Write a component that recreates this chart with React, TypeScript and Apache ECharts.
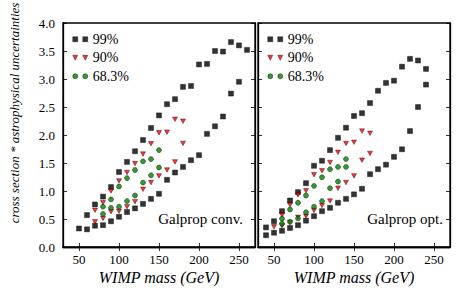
import React, { useEffect, useRef } from "react";
import * as echarts from "echarts";

// ---- data ----
const tickMasses = [50, 100, 150, 200, 250];

// Left panel: Galprop conv.
const convMass99 = [50, 60, 70, 80, 90, 100, 110, 120, 130, 140, 150, 160, 170, 180, 190, 200, 210, 220, 230, 240, 250, 260,
  60, 70, 80, 90, 100, 110, 120, 130, 140, 150, 160, 170, 180, 190, 200, 210, 220, 230, 240, 250];
const convVal99 = [0.33, 0.57, 0.76, 0.9, 1.07, 1.34, 1.52, 1.71, 1.91, 2.125, 2.35, 2.55, 2.64, 2.86, 2.875, 3.26, 3.27, 3.5, 3.49, 3.66, 3.6, 3.52,
  0.315, 0.38, 0.39, 0.46, 0.54, 0.625, 0.69, 0.77, 0.86, 0.95, 1.2, 1.33, 1.43, 1.55, 1.64, 2.02, 2.155, 2.33, 2.74, 2.95];
const convMass90 = [70, 80, 90, 100, 110, 120, 130, 140, 150, 160, 170, 180,
  70, 80, 90, 100, 110, 120, 130, 140, 150, 160, 170, 180];
const convVal90 = [0.655, 0.79, 1.0, 1.18, 1.33, 1.49, 1.66, 1.845, 2.04, 2.05, 2.28, 2.245,
  0.45, 0.51, 0.63, 0.64, 0.72, 0.81, 1.03, 1.15, 1.27, 1.375, 1.52, 1.85];
const convMass68 = [80, 90, 100, 110, 120, 130, 140, 150,
  80, 90, 100, 110, 120, 130, 140, 150];
const convVal68 = [0.72, 0.85, 1.08, 1.23, 1.375, 1.53, 1.57, 1.73,
  0.59, 0.7, 0.72, 0.82, 0.92, 1.15, 1.28, 1.42];

// Right panel: Galprop opt.
const optMass99 = [40, 50, 60, 70, 80, 90, 100, 110, 120, 130, 140, 150, 160, 170, 180, 190, 200, 210, 220, 230, 240,
  40, 50, 60, 70, 80, 90, 100, 110, 120, 130, 140, 150, 160, 170, 180, 190, 200, 210, 220, 230, 240];
const optVal99 = [0.35, 0.46, 0.64, 0.83, 0.98, 1.14, 1.45, 1.54, 1.73, 1.95, 2.13, 2.34, 2.39, 2.57, 2.79, 2.93, 2.97, 3.22, 3.36, 3.33, 3.18,
  0.21, 0.255, 0.29, 0.34, 0.39, 0.47, 0.55, 0.64, 0.7, 0.79, 0.86, 0.94, 1.04, 1.3, 1.39, 1.47, 1.61, 1.745, 2.07, 2.5, 2.9];
const optMass90 = [60, 70, 80, 90, 100, 110, 120, 130, 140, 150, 160, 170,
  50, 60, 70, 80, 90, 100, 110, 120, 130, 140, 150, 160, 170];
const optVal90 = [0.57, 0.75, 0.93, 1.005, 1.29, 1.36, 1.51, 1.69, 1.85, 1.87, 2.07, 2.03,
  0.36, 0.38, 0.44, 0.53, 0.55, 0.65, 0.74, 0.82, 1.05, 1.15, 1.27, 1.55, 1.67];
const optMass68 = [60, 70, 80, 90, 100, 110, 120, 130, 140,
  60, 70, 80, 90, 100, 110, 120, 130, 140];
const optVal68 = [0.505, 0.67, 0.79, 0.92, 1.09, 1.245, 1.39, 1.43, 1.57,
  0.415, 0.45, 0.51, 0.62, 0.72, 0.82, 1.05, 1.17, 1.43];

const seriesNames = ["99%", "90%", "68.3%"];
const panelLabels = ["Galprop conv.", "Galprop opt."];
const xTitle = "WIMP mass (GeV)";
const yTitle = "cross section * astrophysical uncertainties";

const pairs = (xs: number[], ys: number[]) => xs.map((x, i) => [x, ys[i]]);

const SERIF = "Liberation Serif";

export default function App() {
  const ref = useRef<HTMLDivElement>(null);
  useEffect(() => {
    if (!ref.current) return;
    const chart = echarts.init(ref.current, null, { renderer: "svg" });

    const grids = [
      { show: true, borderColor: "#000", borderWidth: 1.3, left: 63, top: 23, width: 192, height: 224, outerBoundsMode: "none" },
      { show: true, borderColor: "#000", borderWidth: 1.3, left: 258, top: 23, width: 192, height: 224, outerBoundsMode: "none" },
    ];
    const tickStyle = { color: "#000", width: 0.8 };
    const axisLine = { show: true, lineStyle: { color: "#000", width: 1.3 } };
    const xAxes: any[] = [];
    const yAxes: any[] = [];
    [0, 1].forEach((g) => {
      xAxes.push({
        gridIndex: g, type: "value", min: 30, max: 270, position: "bottom",
        axisLine, splitLine: { show: false },
        axisTick: { inside: true, length: 4, customValues: tickMasses, lineStyle: tickStyle },
        axisLabel: { customValues: tickMasses, margin: 6, color: "#000", fontFamily: SERIF, fontSize: 13 },
      });
      xAxes.push({
        gridIndex: g, type: "value", min: 30, max: 270, position: "top",
        axisLine, splitLine: { show: false },
        axisTick: { inside: true, length: 4, customValues: tickMasses, lineStyle: tickStyle },
        axisLabel: { show: false },
      });
      yAxes.push({
        gridIndex: g, type: "value", min: 0, max: 4, interval: 0.5, position: "left",
        axisLine, splitLine: { show: false },
        axisTick: { inside: true, length: 4, lineStyle: tickStyle },
        axisLabel: { show: g === 0, margin: 8, color: "#000", fontFamily: SERIF, fontSize: 13, formatter: (v: number) => v.toFixed(1) },
      });
      yAxes.push({
        gridIndex: g, type: "value", min: 0, max: 4, interval: 0.5, position: "right",
        axisLine, splitLine: { show: false },
        axisTick: { inside: true, length: 4, lineStyle: tickStyle },
        axisLabel: { show: false },
      });
    });

    const styles = [
      { symbol: "rect", size: 5, rotate: 0, itemStyle: { color: "#000", borderColor: "#000", borderWidth: 0.5 } },
      { symbol: "triangle", size: [5, 4.5], rotate: 180, itemStyle: { color: "#ff0000", borderColor: "#000", borderWidth: 0.5 } },
      { symbol: "circle", size: 5, rotate: 0, itemStyle: { color: "#008000", borderColor: "#000", borderWidth: 0.5 } },
    ];
    const panelData = [
      [pairs(convMass99, convVal99), pairs(convMass90, convVal90), pairs(convMass68, convVal68)],
      [pairs(optMass99, optVal99), pairs(optMass90, optVal90), pairs(optMass68, optVal68)],
    ];
    const series: any[] = [];
    [0, 1].forEach((g) => {
      [0, 1, 2].forEach((k) => {
        series.push({
          type: "scatter", name: seriesNames[k],
          xAxisIndex: g * 2, yAxisIndex: g * 2,
          data: panelData[g][k],
          symbol: styles[k].symbol, symbolSize: styles[k].size, symbolRotate: styles[k].rotate,
          itemStyle: styles[k].itemStyle,
          emphasis: { disabled: true },
        });
      });
    });

    const icons = [
      "path://M0,0H10V10H0Z M20,0H30V10H20Z",
      "path://M0,0H10L5,10Z M20,0H30L25,10Z",
      "path://M0,5A5,5 0 1,0 10,5A5,5 0 1,0 0,5Z M20,5A5,5 0 1,0 30,5A5,5 0 1,0 20,5Z",
    ];
    const legendFor = (left: number) => ({
      orient: "vertical", left, top: 30, padding: 0, itemWidth: 15, itemHeight: 5, itemGap: 0, itemTextGap: 5,
      selectedMode: false,
      textStyle: { color: "#000", fontFamily: SERIF, fontSize: 14, lineHeight: 18.5 },
      data: seriesNames.map((n, k) => ({ name: n, icon: icons[k], itemStyle: { ...styles[k].itemStyle } })),
    });

    chart.setOption({
      animation: false,
      backgroundColor: "#fff",
      grid: grids,
      xAxis: xAxes,
      yAxis: yAxes,
      series,
      legend: [legendFor(72.5), legendFor(267.5)],
      graphic: [
        { type: "text", x: 243, y: 219, style: { text: panelLabels[0], fill: "#000", font: `15px "${SERIF}"`, align: "right", verticalAlign: "middle" } },
        { type: "text", x: 443, y: 219, style: { text: panelLabels[1], fill: "#000", font: `15px "${SERIF}"`, align: "right", verticalAlign: "middle" } },
        { type: "text", x: 159, y: 277, style: { text: xTitle, fill: "#000", font: `italic 16px "${SERIF}"`, align: "center", verticalAlign: "middle" } },
        { type: "text", x: 354, y: 277, style: { text: xTitle, fill: "#000", font: `italic 16px "${SERIF}"`, align: "center", verticalAlign: "middle" } },
        { type: "text", x: 14, y: 113, rotation: Math.PI / 2, style: { text: yTitle, fill: "#000", font: `italic 13px "${SERIF}"`, align: "center", verticalAlign: "middle" } },
      ],
    });
    return () => chart.dispose();
  }, []);
  return <div ref={ref} style={{ position: "fixed", left: 0, top: 0, width: 471, height: 291 }} />;
}
